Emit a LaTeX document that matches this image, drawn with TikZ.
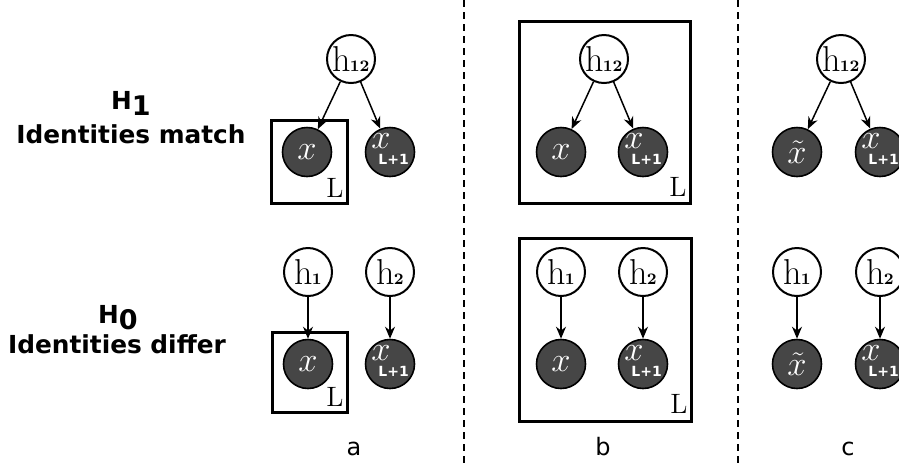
\documentclass[tikz,border=0pt]{standalone}
\usepackage{fontspec}
\setsansfont{DejaVu Sans}
\usetikzlibrary{arrows.meta}
\definecolor{obsgray}{RGB}{70,70,70}
\tikzset{
  latent/.style={circle,draw,line width=1pt,minimum size=24pt,inner sep=0pt,font=\fontsize{18}{18}\selectfont},
  observed/.style={circle,draw,fill=obsgray,line width=0.8pt,minimum size=24.5pt,inner sep=0pt,text=white,font=\fontsize{17}{17}\selectfont},
  plate/.style={line width=1.5pt},
  platelabel/.style={anchor=base east,inner sep=0pt,font=\fontsize{14}{14}\selectfont},
  edge/.style={-{Stealth[length=6pt,width=5pt]},line width=0.75pt},
  divider/.style={dash pattern=on 3.5pt off 2.5pt,line width=0.9pt},
  hyp/.style={font=\fontsize{12.4}{13}\sffamily\bfseries,inner sep=0pt,anchor=base},
  panel/.style={font=\fontsize{12}{12}\sffamily,inner sep=0pt,anchor=base}
}
\newcommand{\hlab}[1]{h\kern-0.5pt{\fontsize{8}{8}\selectfont\bfseries #1}}
\newcommand{\xnext}{\makebox[0pt][l]{\smash{\kern-9.3pt\raisebox{2pt}{$x$}}}\makebox[0pt][l]{\smash{\kern-5.8pt\raisebox{-6.2pt}{\fontsize{7}{7}\sffamily\bfseries L+1}}}}

\begin{document}
\begin{tikzpicture}[x=0.5pt,y=-0.5pt]
\useasboundingbox (0,0) rectangle (899,463);

\node[hyp] (hone) at (131,109) {H\raisebox{-3pt}{\fontsize{13.5}{13.5}\selectfont 1}};
\node[hyp] (match) at (131,143) {Identities match};
\node[hyp] (hzero) at (118,323) {H\raisebox{-3pt}{\fontsize{13.5}{13.5}\selectfont 0}};
\node[hyp] (differ) at (117,353) {Identities differ};

\draw[divider] (464,0) -- (464,463);
\draw[divider] (738,0) -- (738,463);

\node[latent] (ha) at (351,59) {\hlab{12}};
\node[observed] (xa) at (307,152) {$x$};
\node[observed] (xna) at (390,152) {\xnext};
\draw[plate] (271,120) rectangle (347,203);
\node[platelabel] (La) at (344,197) {L};
\draw[edge] (ha) -- (xa);
\draw[edge] (ha) -- (xna);

\node[latent] (hoa) at (308,272) {\hlab{1}};
\node[latent] (hta) at (390,272) {\hlab{2}};
\node[observed] (xba) at (308,364) {$x$};
\node[observed] (xnba) at (390,364) {\xnext};
\draw[plate] (272,332) rectangle (347,412);
\node[platelabel] (Lba) at (344,406) {L};
\draw[edge] (hoa) -- (xba);
\draw[edge] (hta) -- (xnba);

\draw[plate] (519,21) rectangle (690,203);
\node[latent] (hb) at (604,59) {\hlab{12}};
\node[observed] (xb) at (561,152) {$x$};
\node[observed] (xnb) at (643,152) {\xnext};
\node[platelabel] (Lb) at (687,196) {L};
\draw[edge] (hb) -- (xb);
\draw[edge] (hb) -- (xnb);

\draw[plate] (519,238) rectangle (691,421);
\node[latent] (hobb) at (561,272) {\hlab{1}};
\node[latent] (htbb) at (643,272) {\hlab{2}};
\node[observed] (xbb) at (561,364) {$x$};
\node[observed] (xnbb) at (643,364) {\xnext};
\node[platelabel] (Lbb) at (688,413) {L};
\draw[edge] (hobb) -- (xbb);
\draw[edge] (htbb) -- (xnbb);

\node[latent] (hc) at (841,59) {\hlab{12}};
\node[observed] (xc) at (797,152) {$\tilde{x}$};
\node[observed] (xnc) at (880,152) {\xnext};
\draw[edge] (hc) -- (xc);
\draw[edge] (hc) -- (xnc);

\node[latent] (hocc) at (797,272) {\hlab{1}};
\node[latent] (htcc) at (880,272) {\hlab{2}};
\node[observed] (xcc) at (797,364) {$\tilde{x}$};
\node[observed] (xncc) at (880,364) {\xnext};
\draw[edge] (hocc) -- (xcc);
\draw[edge] (htcc) -- (xncc);

\node[panel] (pa) at (354,455) {a};
\node[panel] (pb) at (603,455) {b};
\node[panel] (pc) at (848,455) {c};
\end{tikzpicture}
\end{document}
